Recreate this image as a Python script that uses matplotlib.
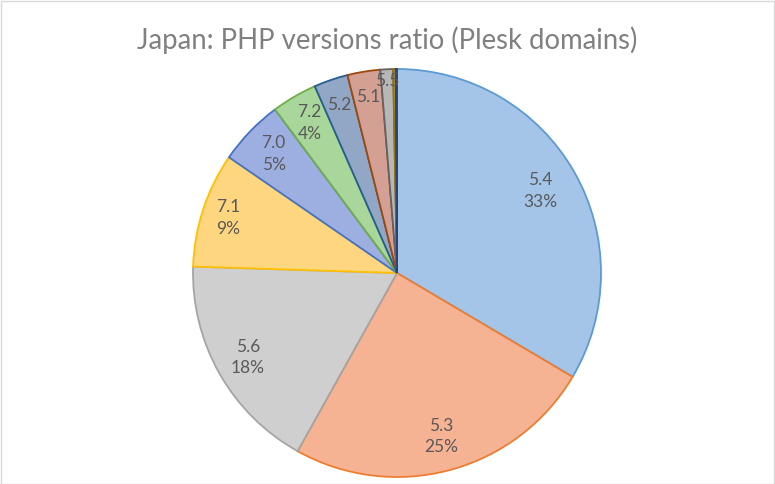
import matplotlib
matplotlib.use("Agg")
import matplotlib.pyplot as plt
import numpy as np

versions = ["5.4", "5.3", "5.6", "7.1", "7.0", "7.2", "5.2", "5.1", "5.5", "7.3", "4.4"]
shares = [33.5, 24.6, 17.4, 9.1, 5.2, 3.6, 2.7, 2.6, 1.0, 0.2, 0.1]
label_text = ["5.4\n33%", "5.3\n25%", "5.6\n18%", "7.1\n9%", "7.0\n5%", "7.2\n4%",
              "5.2", "5.1", "5.5", "", ""]

fills = ["#a4c4e8", "#f6b393", "#cfcfcf", "#ffd680", "#9dafe0", "#a9d69a",
         "#92a6c6", "#d3a093", "#b7b7b7", "#c9a030", "#5a7bb0"]
edges = ["#5b9bd5", "#ed7d31", "#a5a5a5", "#ffc000", "#4472c4", "#70ad47",
         "#255e91", "#9e480e", "#636363", "#997300", "#264478"]
label_r = [0.81, 0.83, 0.84, 0.87, 0.84, 0.85, 0.87, 0.875, 0.94, 0.9, 0.9]

plt.rcParams["font.family"] = ["Lato", "DejaVu Sans"]

fig = plt.figure(figsize=(7.75, 4.84), dpi=100)
R = 204
cx, cy = 397, 484 - 273
ax = fig.add_axes([(cx - R) / 775, (cy - R) / 484, 2 * R / 775, 2 * R / 484])

wedges, _ = ax.pie(shares, startangle=90, counterclock=False, colors=fills,
                   wedgeprops=dict(linewidth=1.3), radius=1)
for w, ec in zip(wedges, edges):
    w.set_edgecolor(ec)

for w, txt, lr in zip(wedges, label_text, label_r):
    if not txt:
        continue
    ang = np.deg2rad((w.theta1 + w.theta2) / 2)
    ax.text(lr * np.cos(ang), lr * np.sin(ang), txt, ha="center", va="center",
            fontsize=12.5, color="#595959", linespacing=1.45)

ax.set_xlim(-1, 1)
ax.set_ylim(-1, 1)
ax.set_aspect("equal")

fig.text(0.5, 1 - 40 / 484, "Japan: PHP versions ratio (Plesk domains)", ha="center", va="center",
         fontsize=19.8, color="#808080")

fig.patches.append(plt.Rectangle((0.001, 0.001), 0.998, 0.997, transform=fig.transFigure,
                                 fill=False, edgecolor="#d9d9d9", linewidth=1))

fig.savefig("out.png", dpi=100)
